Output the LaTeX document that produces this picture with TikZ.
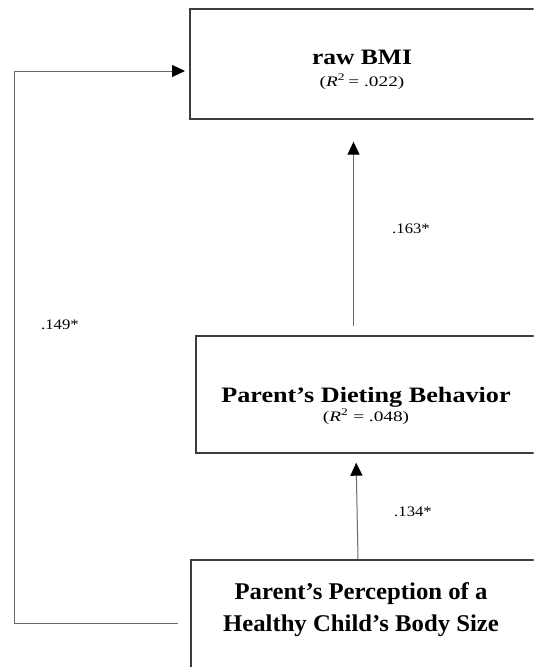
\documentclass[tikz,border=0pt]{standalone}
\usepackage{fontspec}
\setmainfont{Liberation Serif}
\usetikzlibrary{arrows.meta,calc}

\definecolor{boxgray}{HTML}{3C3C3C}
\definecolor{linkgray}{HTML}{6A6A6A}

% wide serif text: horizontal stretch factor, then the text
\newcommand{\widetext}[2]{\scalebox{#1}[1]{#2}}

\tikzset{
  varbox/.style={draw=boxgray, line width=1.7pt, anchor=north west, inner sep=0pt},
  link/.style={draw=linkgray, line width=1pt,
    -{Triangle[length=13pt,width=12pt,color=black]}},
  title/.style={font=\bfseries\fontsize{22}{25}\selectfont, anchor=base, inner sep=0pt},
  bigtitle/.style={font=\bfseries\fontsize{24}{28}\selectfont, anchor=base, inner sep=0pt},
  stat/.style={font=\fontsize{14.5}{17}\selectfont, anchor=base, inner sep=0pt},
  coef/.style={font=\fontsize{14.5}{17}\selectfont, anchor=base, inner sep=0pt},
}

\begin{document}
\begin{tikzpicture}[x=1pt, y=-1pt]
  \useasboundingbox (0,0) rectangle (535,667);
  \clip (0,0) rectangle (533.5,667);

  % variable boxes (right and lower edges run off the page)
  \node[varbox, minimum width=360pt, minimum height=110pt] (bmi)  at (189,8)   {};
  \node[varbox, minimum width=360pt, minimum height=117pt] (diet) at (195,335) {};
  \node[varbox, minimum width=360pt, minimum height=140pt] (perc) at (190,559) {};

  % box texts
  \node[title] (bmiT) at (362,64) {\widetext{1.16}{raw BMI}};
  \node[stat]  (bmiR) at (362,86) {\widetext{1.33}{(\textit{R}\textsuperscript{2}\,= .022)}};

  \node[title] (dietT) at (366,402) {\widetext{1.19}{Parent’s Dieting Behavior}};
  \node[stat]  (dietR) at (366,421) {\widetext{1.33}{(\textit{R}\textsuperscript{2} = .048)}};

  \node[bigtitle] (percA) at (361,599) {\widetext{1.03}{Parent’s Perception of a}};
  \node[bigtitle] (percB) at (361,631) {\widetext{1.03}{Healthy Child’s Body Size}};

  % paths
  \draw[link, shorten <=9pt, shorten >=22pt]
    ([xshift=158.5pt]diet.north west) -- ([xshift=164.5pt]bmi.south west);
  \draw[link, shorten >=9pt]
    ([xshift=168pt]perc.north west) -- ([xshift=161pt]diet.south west);
  \draw[link]
    ($(perc.north west)+(-12,64)$) -- ++(-164,0) |- ($(bmi.north west)+(-4,63)$);

  % path coefficients
  \node[coef] (c1) at (411,233) {\widetext{1.15}{.163*}};
  \node[coef] (c2) at (413,516) {\widetext{1.15}{.134*}};
  \node[coef] (c3) at (60,329)  {\widetext{1.15}{.149*}};
\end{tikzpicture}
\end{document}
